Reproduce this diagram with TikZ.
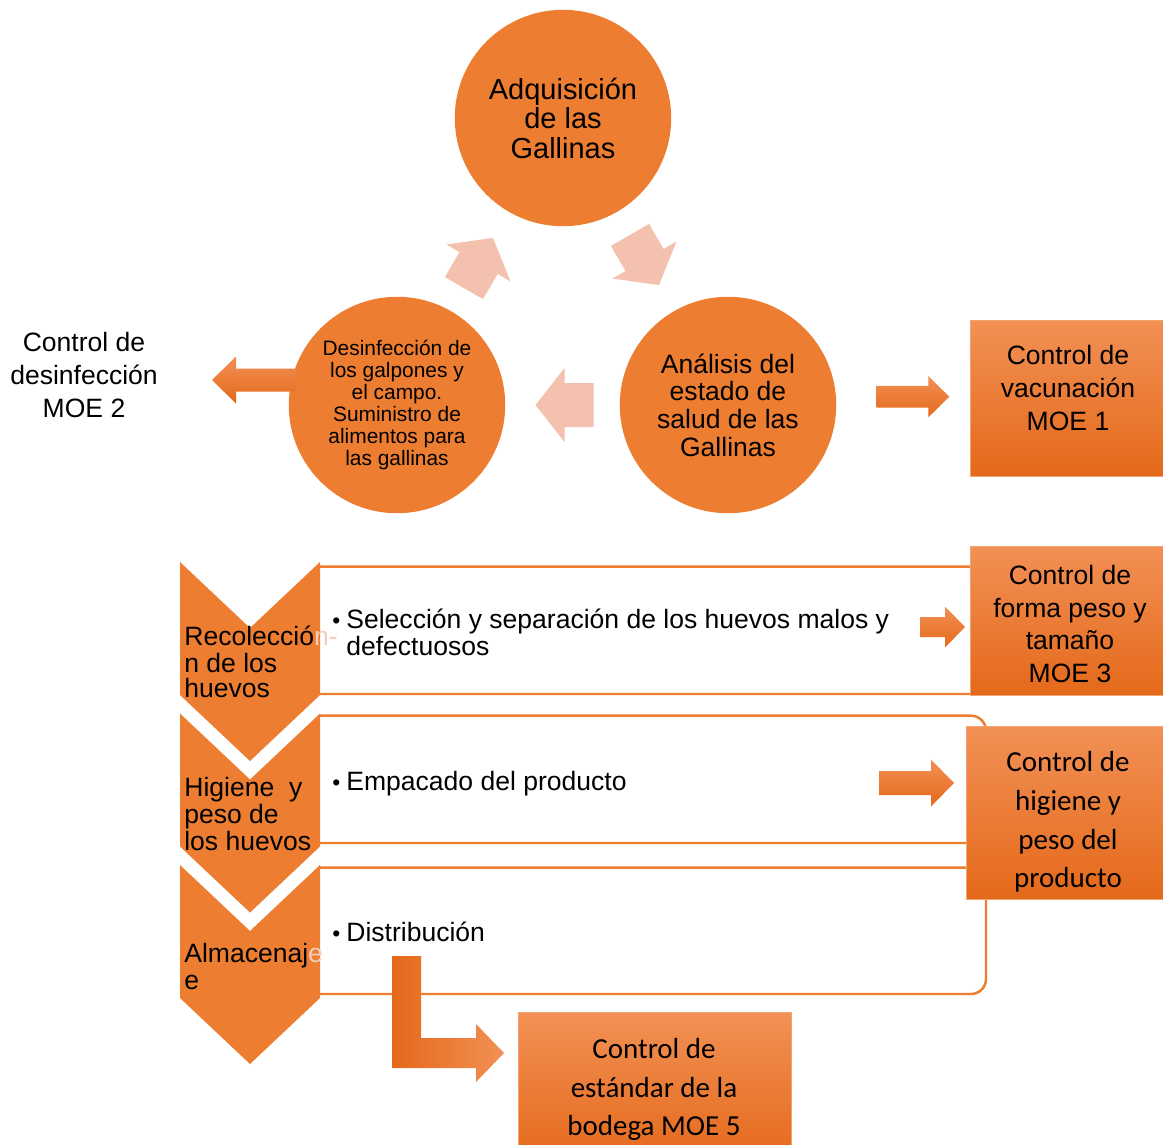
\documentclass[tikz,border=0pt]{standalone}
\usepackage{fontspec}
\setmainfont{Liberation Sans}
\newfontfamily\calibri{Carlito}

\definecolor{naranja}{HTML}{ED7D31}
\definecolor{salmon}{HTML}{F4C1AE}
\definecolor{claro}{HTML}{F29055}
\definecolor{oscuro}{HTML}{E4691A}
\definecolor{tenue}{HTML}{F3CDB8}

% block arrow: style, centre, angle, length, head width, shaft width, head length
\newcommand{\barrow}[7]{%
  \path[#1,shift={(#2)},rotate=#3] (-#4/2,-#6/2) -- (#4/2-#7,-#6/2) -- (#4/2-#7,-#5/2)
    -- (#4/2,0) -- (#4/2-#7,#5/2) -- (#4/2-#7,#6/2) -- (-#4/2,#6/2) -- cycle;}
\newcommand{\bul}{\makebox[8pt][l]{\fontsize{13}{13}\selectfont\textbullet}}

\tikzset{
  bubble/.style={circle, fill=naranja, inner sep=0pt, minimum size=4.33cm, align=center},
  moe/.style={rectangle, draw=naranja!70, line width=0.4pt, top color=claro, bottom color=oscuro, inner sep=0pt},
  moetext/.style={align=center, inner sep=0pt, font=\fontsize{15.1}{18.7}\selectfont},
  moecal/.style={align=center, inner sep=0pt, font=\calibri\fontsize{16.5}{22}\selectfont},
  paso/.style={draw=naranja, line width=1.4pt, rounded corners=0.3cm},
  chevron/.style={fill=naranja},
  linea/.style={anchor=base west, inner sep=0pt, font=\fontsize{15.1}{15.5}\selectfont},
  flecha/.style={top color=claro, bottom color=oscuro},
  tenue flecha/.style={fill=salmon},
}

\begin{document}
\begin{tikzpicture}[x=0.02cm,y=-0.02cm]
  \useasboundingbox (0,0) rectangle (1163,1144);

  % cycle of the hens
  \node[bubble, font=\fontsize{16.5}{16.8}\selectfont] (adq) at (563,118) {Adquisición\\de las\\Gallinas};
  \node[bubble, font=\fontsize{15.1}{15.7}\selectfont] (ana) at (728,405) {Análisis del\\estado de\\salud de las\\Gallinas};
  \node[bubble, font=\fontsize{11.9}{12.5}\selectfont] (des) at (397,405) {Desinfección de\\los galpones y\\el campo.\\Suministro de\\alimentos para\\las gallinas};
  \barrow{tenue flecha}{478.5,263}{60}{58}{74}{44}{29}
  \barrow{tenue flecha}{644.5,260}{-60}{58}{74}{44}{29}
  \barrow{tenue flecha}{564.5,405}{180}{58}{74}{44}{29}

  % controls of the cycle
  \node[moe, minimum width=4cm, minimum height=3.12cm] (moe1) at (1070,398) {};
  \node[moetext] (moe1txt) at (1068,388) {Control de\\vacunación\\MOE 1};
  \node[moetext] (moe2) at (84,375) {Control de\\desinfección\\MOE 2};
  \barrow{flecha}{913,396.7}{0}{72.6}{41.3}{21.6}{21}
  \barrow{flecha}{254,380}{180}{84}{47}{23}{24}

  % steps with the eggs
  \draw[paso] (320,566.7) -- (986,566.7) -- (986,694) -- (320,694);
  \draw[paso] (320,715.7) -- (986,715.7) -- (986,843) -- (320,843);
  \draw[paso] (320,867.7) -- (986,867.7) -- (986,994) -- (320,994);
  \foreach \y in {562,713.5,865}
    \fill[chevron] (180,\y) -- (250,\y+66) -- (320,\y) -- (320,\y+133)
      -- (250,\y+199) -- (180,\y+133) -- cycle;

  \node[linea] (rec1) at (184,645) {Recolecci\'o{\color{tenue}n-}};
  \node[linea] (rec2) at (184,672.7) {n de los};
  \node[linea] (rec3) at (184,697.3) {huevos};
  \node[linea] (hig1) at (184,796.7) {Higiene\ \ y};
  \node[linea] (hig2) at (184,823.3) {peso de};
  \node[linea] (hig3) at (184,850) {los huevos};
  \node[linea] (alm1) at (184,962.3) {Almacenaj{\color{tenue}e}};
  \node[linea] (alm2) at (184,989.3) {e};

  \node[linea] (sel1) at (332,628.3) {\bul Selección y separación de los huevos malos y};
  \node[linea] (sel2) at (346,655) {defectuosos};
  \node[linea] (emp) at (332,790) {\bul Empacado del producto};
  \node[linea] (dis) at (332,941.7) {\bul Distribución};

  % controls of the eggs
  \node[moe, minimum width=4cm, minimum height=2.98cm] (moe3) at (1070,620.5) {};
  \node[moetext] (moe3txt) at (1070,624) {Control de\\forma peso y\\tamaño\\MOE 3};
  \node[moe, minimum width=4.08cm, minimum height=3.446cm] (moe4) at (1068,812.8) {};
  \node[moecal] (moe4txt) at (1068,822) {Control de\\higiene y\\peso del\\producto};
  \node[moe, minimum width=5.46cm, minimum height=3.06cm] (moe5) at (654.5,1088.5) {};
  \node[moecal] (moe5txt) at (654,1089.5) {Control de\\estándar de la\\bodega MOE 5};
  \barrow{flecha}{942.5,627}{0}{45}{41}{20}{20}
  \barrow{flecha}{916.5,783}{0}{75}{47}{24}{23}
  \path[left color=oscuro, right color=claro] (392,956) -- (421,956) -- (421,1038) -- (476,1038)
    -- (476,1024) -- (504,1053) -- (476,1082) -- (476,1068) -- (392,1068) -- cycle;
\end{tikzpicture}
\end{document}
